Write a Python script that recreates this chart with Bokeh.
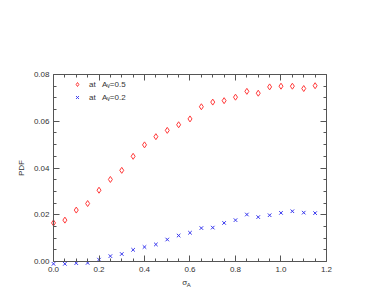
import math
from bokeh.plotting import figure
from bokeh.models import (LinearAxis, FixedTicker, PrintfTickFormatter,
                          CustomJSTickFormatter, Range1d, Legend, LegendItem, Label)
from bokeh.embed import file_html
from bokeh.resources import INLINE

x_vals = [0.0, 0.05, 0.10, 0.15, 0.20, 0.25, 0.30, 0.35, 0.40, 0.45, 0.50, 0.55,
          0.60, 0.65, 0.70, 0.75, 0.80, 0.85, 0.90, 0.95, 1.00, 1.05, 1.10, 1.15]
pdf_av05 = [0.0165, 0.0177, 0.0220, 0.0248, 0.0305, 0.0351, 0.0390, 0.0450, 0.0499,
            0.0534, 0.0561, 0.0585, 0.0610, 0.0662, 0.0682, 0.0688, 0.0703, 0.0728,
            0.0720, 0.0747, 0.0750, 0.0750, 0.0740, 0.0752]
pdf_av02 = [-0.0010, -0.0010, -0.0007, -0.0006, 0.0008, 0.0023, 0.0032, 0.0050, 0.0062,
            0.0073, 0.0094, 0.0111, 0.0123, 0.0143, 0.0145, 0.0165, 0.0177, 0.0201,
            0.0190, 0.0198, 0.0208, 0.0215, 0.0209, 0.0207]
x_ticks = [0.0, 0.2, 0.4, 0.6, 0.8, 1.0, 1.2]
x_minor = [0.05, 0.1, 0.15, 0.25, 0.3, 0.35, 0.45, 0.5, 0.55, 0.65, 0.7, 0.75,
           0.85, 0.9, 0.95, 1.05, 1.1, 1.15]
y_ticks = [0.0, 0.02, 0.04, 0.06, 0.08]
y_minor = [0.005, 0.01, 0.015, 0.025, 0.03, 0.035, 0.045, 0.05, 0.055,
           0.065, 0.07, 0.075]
label_av05 = "at   A\u1d65=0.5"
label_av02 = "at   A\u1d65=0.2"
x_label_main = "\u03c3"
x_label_sub = "A"
y_label = "PDF"

X_MIN, X_MAX = 0.0, 1.2
Y_MIN, Y_MAX = 0.0, 0.08

FONT = "Liberation Sans"
AX = "#555555"
TXT = "#333333"

# The frame fills the whole canvas; the plotting box (0..1.2, 0..0.08) sits at
# px x 53..326 and px y 74..261, with axes pinned to its edges.
p = figure(width=380, height=292, output_backend="svg", toolbar_location=None,
           x_range=Range1d(-0.2330, 1.4374), y_range=Range1d(-0.01326, 0.11166),
           min_border=0, min_border_left=0, min_border_right=0, min_border_top=0,
           min_border_bottom=0, x_axis_type=None, y_axis_type=None)
p.outline_line_color = None
p.xgrid.visible = False
p.ygrid.visible = False
p.background_fill_color = "white"
p.border_fill_color = "white"


def style(ax, labels=True):
    ax.axis_line_color = AX
    ax.major_tick_line_color = AX
    ax.minor_tick_line_color = AX
    ax.major_tick_in = 6
    ax.major_tick_out = 0
    ax.minor_tick_in = 3
    ax.minor_tick_out = 0
    ax.major_label_text_font = FONT
    ax.major_label_text_color = TXT
    ax.major_label_text_font_size = "8px"
    ax.major_label_standoff = 5


blank = CustomJSTickFormatter(code="return ''")

bottom = LinearAxis(ticker=FixedTicker(ticks=x_ticks, minor_ticks=x_minor),
                    formatter=PrintfTickFormatter(format="%.1f"),
                    fixed_location=Y_MIN, bounds=(X_MIN, X_MAX))
style(bottom)
top = LinearAxis(ticker=FixedTicker(ticks=x_ticks, minor_ticks=x_minor), formatter=blank,
                 fixed_location=Y_MAX, bounds=(X_MIN, X_MAX))
style(top)
left = LinearAxis(ticker=FixedTicker(ticks=y_ticks, minor_ticks=y_minor),
                  formatter=PrintfTickFormatter(format="%.2f"),
                  fixed_location=X_MIN, bounds=(Y_MIN, Y_MAX))
style(left)
left.major_label_standoff = 4
right = LinearAxis(ticker=FixedTicker(ticks=y_ticks, minor_ticks=y_minor), formatter=blank,
                   fixed_location=X_MAX, bounds=(Y_MIN, Y_MAX))
style(right)

p.add_layout(bottom, "below")
p.add_layout(top, "above")
p.add_layout(left, "left")
p.add_layout(right, "right")

r1 = p.scatter(x_vals, pdf_av05, marker="diamond", size=6, fill_color=None,
               line_color="#ff3a3a", line_width=1)
r2 = p.scatter(x_vals, pdf_av02, marker="x", size=5,
               line_color="#3434ee", line_width=1)

legend = Legend(items=[LegendItem(label=label_av05, renderers=[r1]),
                       LegendItem(label=label_av02, renderers=[r2])],
                location=(71, 190), border_line_color=None, background_fill_alpha=0,
                padding=0, margin=0, spacing=3, glyph_width=12, glyph_height=10,
                label_standoff=6, label_text_font=FONT, label_text_font_size="8px",
                label_text_color=TXT, label_height=10)
p.add_layout(legend, "center")

p.add_layout(Label(x=0.577, y=Y_MIN, y_offset=-21, text=x_label_main, text_font=FONT,
                   text_font_size="8px", text_color=TXT, text_align="center",
                   text_baseline="middle"))
p.add_layout(Label(x=0.577, y=Y_MIN, x_offset=4, y_offset=-23, text=x_label_sub,
                   text_font=FONT, text_font_size="6px", text_color=TXT,
                   text_align="center", text_baseline="middle"))
p.add_layout(Label(x=X_MIN, y=(Y_MIN + Y_MAX) / 2, x_offset=-32, text=y_label,
                   angle=math.pi / 2, text_font=FONT, text_font_size="8px",
                   text_color=TXT, text_align="center", text_baseline="middle"))

open("out.html", "w").write(file_html(p, INLINE))
